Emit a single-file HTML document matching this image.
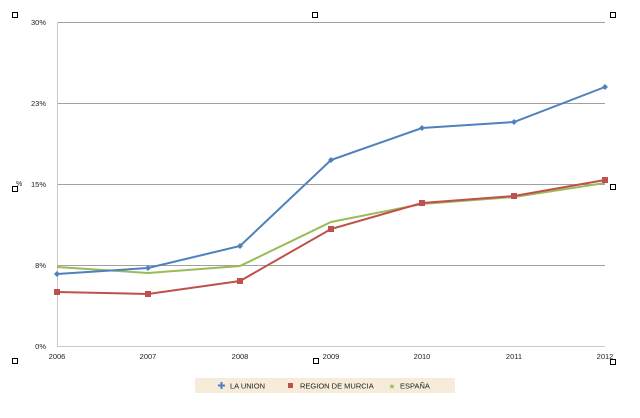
<!DOCTYPE html>
<html><head><style>
body{margin:0;background:#fff;}
svg{display:block;font-family:"Liberation Sans",sans-serif;}
</style></head><body>
<svg width="640" height="418" viewBox="0 0 640 418">
<g stroke="#a0a0a0" stroke-width="1">
<line x1="57" y1="22.5" x2="605" y2="22.5"/>
<line x1="57" y1="103.5" x2="605" y2="103.5"/>
<line x1="57" y1="184.5" x2="605" y2="184.5"/>
<line x1="57" y1="265.5" x2="605" y2="265.5"/>
<line x1="57" y1="346.5" x2="605" y2="346.5" stroke="#c8c8c8"/>
<line x1="57.5" y1="22" x2="57.5" y2="347" stroke="#c8c8c8"/>
</g>
<g font-size="7.5" fill="#222" text-anchor="end">
<text x="46" y="25">30%</text><text x="46" y="106">23%</text>
<text x="46" y="187">15%</text><text x="46" y="268">8%</text><text x="46" y="349">0%</text>
</g>
<text x="16" y="186" font-size="7" fill="#222">%</text>
<g font-size="7.5" fill="#222" text-anchor="middle">
<text x="57" y="359">2006</text><text x="148" y="359">2007</text><text x="240" y="359">2008</text>
<text x="331" y="359">2009</text><text x="422" y="359">2010</text><text x="514" y="359">2011</text><text x="605" y="359">2012</text>
</g>
<polyline fill="none" stroke="#9bbb59" stroke-width="2" points="57,267 148,273 240,266 331,222 422,204 514,197 605,183"/>
<polyline fill="none" stroke="#c0504d" stroke-width="2" points="57,292 148,294 240,281 331,229 422,203 514,196 605,180"/>
<polyline fill="none" stroke="#4f81bd" stroke-width="2" points="57,274 148,268 240,246 331,160 422,128 514,122 605,87"/>
<g fill="#c0504d">
<rect x="54" y="289" width="6" height="6"/><rect x="145" y="291" width="6" height="6"/><rect x="237" y="278" width="6" height="6"/>
<rect x="328" y="226" width="6" height="6"/><rect x="419" y="200" width="6" height="6"/><rect x="511" y="193" width="6" height="6"/><rect x="602" y="177" width="6" height="6"/>
</g>
<g fill="#4f81bd">
<path d="M57,271l3,3l-3,3l-3,-3z"/><path d="M148,265l3,3l-3,3l-3,-3z"/><path d="M240,243l3,3l-3,3l-3,-3z"/>
<path d="M331,157l3,3l-3,3l-3,-3z"/><path d="M422,125l3,3l-3,3l-3,-3z"/><path d="M514,119l3,3l-3,3l-3,-3z"/><path d="M605,84l3,3l-3,3l-3,-3z"/>
</g>
<rect x="195" y="378" width="260" height="15" fill="#f6ecd9"/>
<path d="M218,385.5h7M221.5,382v7" stroke="#4f81bd" stroke-width="2"/>
<text x="230" y="388.5" font-size="7.5" fill="#222">LA UNION</text>
<rect x="288" y="383" width="5" height="5" fill="#c0504d"/>
<text x="300" y="388.5" font-size="7.5" fill="#222">REGION DE MURCIA</text>
<text x="392" y="389" font-size="8" fill="#9bbb59" text-anchor="middle">★</text>
<text x="400" y="388.5" font-size="7.5" fill="#222">ESPAÑA</text>
<g fill="none" stroke="#000" stroke-width="1">
<rect x="12.5" y="12.5" width="5" height="5"/><rect x="312.5" y="12.5" width="5" height="5"/><rect x="610.5" y="12.5" width="5" height="5"/>
<rect x="12.5" y="186.5" width="5" height="5"/><rect x="610.5" y="184.5" width="5" height="5"/>
<rect x="12.5" y="358.5" width="5" height="5"/><rect x="313.5" y="358.5" width="5" height="5"/><rect x="610.5" y="359.5" width="5" height="5"/>
</g>
</svg>
</body></html>
